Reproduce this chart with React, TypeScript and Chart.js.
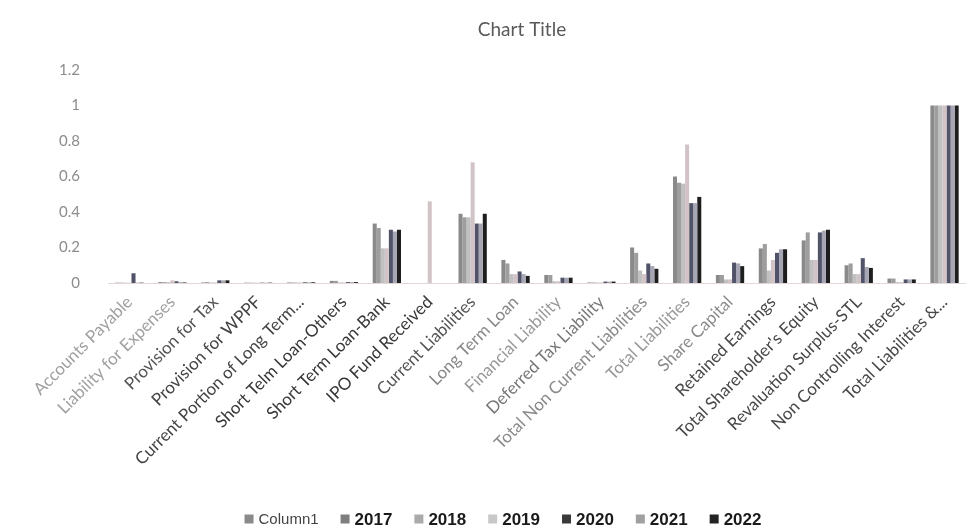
import { useEffect, useRef } from 'react';
import { Chart, registerables } from 'chart.js';

Chart.register(...registerables);

const categories = [
  'Accounts Payable',
  'Liability for Expenses',
  'Provision for Tax',
  'Provision for WPPF',
  'Current Portion of Long Term...',
  'Short Telm Loan-Others',
  'Short Term Loan-Bank',
  'IPO Fund Received',
  'Current Liabilities',
  'Long Term Loan',
  'Financial Liability',
  'Deferred Tax Liability',
  'Total Non Current Liabilities',
  'Total Liabilities',
  'Share Capital',
  'Retained Earnings',
  "Total Shareholder's Equity",
  'Revaluation Surplus-STL',
  'Non Controlling Interest',
  'Total Liabilities &...',
];

const seriesNames = ['Column1', '2017', '2018', '2019', '2020', '2021', '2022'];

const column1 = [0.002, 0.005, 0.003, 0.002, 0.003, 0.012, 0.335, 0, 0.39, 0.13, 0.045, 0.003, 0.2, 0.6, 0.045, 0.195, 0.24, 0.1, 0.025, 1];
const y2017 = [0.002, 0.005, 0.005, 0.002, 0.003, 0.012, 0.31, 0, 0.37, 0.11, 0.045, 0.003, 0.17, 0.565, 0.045, 0.22, 0.285, 0.11, 0.025, 1];
const y2018 = [0.002, 0.005, 0.003, 0.002, 0.003, 0.003, 0.195, 0, 0.37, 0.05, 0.01, 0.003, 0.07, 0.56, 0.02, 0.07, 0.13, 0.05, 0.005, 1];
const y2019 = [0.002, 0.015, 0.003, 0.002, 0.003, 0.003, 0.195, 0.46, 0.68, 0.05, 0.01, 0.003, 0.05, 0.78, 0.02, 0.13, 0.13, 0.05, 0.005, 1];
const y2020 = [0.055, 0.01, 0.015, 0.002, 0.004, 0.005, 0.3, 0, 0.335, 0.065, 0.03, 0.008, 0.11, 0.45, 0.115, 0.17, 0.285, 0.14, 0.02, 1];
const y2021 = [0.002, 0.005, 0.015, 0.002, 0.004, 0.005, 0.29, 0, 0.335, 0.05, 0.03, 0.008, 0.095, 0.45, 0.11, 0.19, 0.295, 0.09, 0.02, 1];
const y2022 = [0.002, 0.003, 0.015, 0.002, 0.004, 0.005, 0.3, 0, 0.39, 0.04, 0.03, 0.008, 0.08, 0.485, 0.095, 0.19, 0.3, 0.085, 0.02, 1];

const seriesValues = [column1, y2017, y2018, y2019, y2020, y2021, y2022];

const barColors = ['#8a8a8a', '#9e9e9e', '#c0c0c0', '#d2c4c6', '#515368', '#a6a6b4', '#1e1e1e'];
const legendColors = ['#8a8a8a', '#7e7e7e', '#aaaaaa', '#c8c8c8', '#3a3a3a', '#a0a0a0', '#232323'];
const labelShades = ['#a0a0a0', '#a0a0a0', '#555555', '#444444', '#444444', '#383838', '#383838', '#383838', '#555555', '#888888', '#999999', '#777777', '#8a8a8a', '#999999', '#8a8a8a', '#484848', '#484848', '#484848', '#484848', '#484848'];

const yTicks = [0, 0.2, 0.4, 0.6, 0.8, 1, 1.2];

const decoPlugin = {
  id: 'excelDeco',
  afterDraw(chart: any) {
    const ctx = chart.ctx;
    ctx.save();
    ctx.fillStyle = '#595959';
    ctx.font = '19px Lato';
    ctx.textAlign = 'center';
    ctx.textBaseline = 'middle';
    ctx.fillText('Chart Title', 522, 30);

    const items = chart.data.datasets.map((d: any, i: number) => ({
      text: d.label,
      color: legendColors[i],
      font: i === 0 ? '15px "Liberation Sans"' : 'bold 17px "Liberation Sans"',
      textColor: i === 0 ? '#444444' : '#1a1a1a',
    }));
    const box = 9;
    const gapBox = 5;
    const gap = 22;
    let total = 0;
    const widths = items.map((it: any) => {
      ctx.font = it.font;
      return ctx.measureText(it.text).width;
    });
    widths.forEach((w: number) => (total += box + gapBox + w));
    total += gap * (items.length - 1);
    let x = 503 - total / 2;
    const yc = 519;
    ctx.textAlign = 'left';
    items.forEach((it: any, i: number) => {
      ctx.fillStyle = it.color;
      ctx.fillRect(x, yc - box / 2, box, box);
      x += box + gapBox;
      ctx.font = it.font;
      ctx.fillStyle = it.textColor;
      ctx.fillText(it.text, x, yc + 1);
      x += widths[i] + gap;
    });
    ctx.restore();
  },
};

export default function App() {
  const ref = useRef<HTMLCanvasElement | null>(null);
  useEffect(() => {
    if (!ref.current) return;
    const chart = new Chart(ref.current, {
      type: 'bar',
      data: {
        labels: categories,
        datasets: seriesNames.map((name, i) => ({
          label: name,
          data: seriesValues[i],
          backgroundColor: barColors[i],
          borderWidth: 0,
          categoryPercentage: 0.66,
          barPercentage: 1,
        })),
      },
      options: {
        responsive: false,
        animation: false,
        devicePixelRatio: 1,
        layout: { padding: { top: 70, right: 2, left: 0, bottom: 0 } },
        plugins: {
          legend: { display: false },
          title: { display: false },
          tooltip: { enabled: false },
        },
        scales: {
          x: {
            grid: { display: false, drawTicks: false },
            border: { display: true, color: '#e2d8d8', width: 1 },
            ticks: {
              autoSkip: false,
              maxRotation: 45,
              minRotation: 45,
              padding: 9,
              font: { family: 'Lato', size: 17 },
              color: (c: any) => labelShades[c.index] || '#555555',
            },
            afterFit: (s: any) => {
              s.height = 249;
            },
          },
          y: {
            min: 0,
            max: 1.2,
            grid: { display: false, drawTicks: false },
            border: { display: false },
            afterBuildTicks: (s: any) => {
              s.ticks = yTicks.map((v) => ({ value: v }));
            },
            ticks: {
              padding: 28,
              font: { family: 'Lato', size: 15 },
              color: '#8c8c8c',
              callback: (v: any) => String(Number(Number(v).toFixed(1))),
            },
            afterFit: (s: any) => {
              s.width = 108;
            },
          },
        },
      },
      plugins: [decoPlugin],
    } as any);
    return () => chart.destroy();
  }, []);
  return (
    <div style={{ position: 'absolute', left: 0, top: 0, width: 968, height: 532, background: '#ffffff' }}>
      <canvas ref={ref} width={968} height={532} style={{ display: 'block' }} />
    </div>
  );
}
